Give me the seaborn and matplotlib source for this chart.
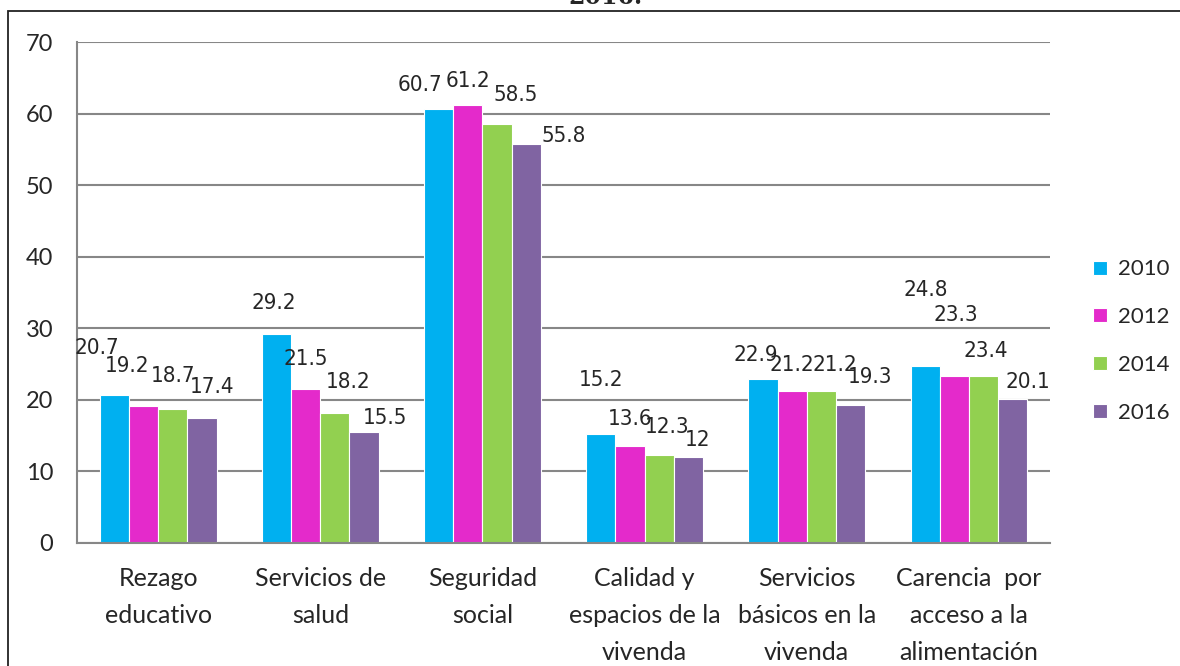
import pandas as pd
import numpy as np
import matplotlib.pyplot as plt
import seaborn as sns
from matplotlib.patches import Rectangle

# data
categories = ["Rezago\neducativo", "Servicios de\nsalud", "Seguridad\nsocial",
              "Calidad y\nespacios de la\nvivenda", "Servicios\nbásicos en la\nvivenda",
              "Carencia  por\nacceso a la\nalimentación"]
years = ["2010", "2012", "2014", "2016"]
v2010 = [20.7, 29.2, 60.7, 15.2, 22.9, 24.8]
v2012 = [19.2, 21.5, 61.2, 13.6, 21.2, 23.3]
v2014 = [18.7, 18.2, 58.5, 12.3, 21.2, 23.4]
v2016 = [17.4, 15.5, 55.8, 12.0, 19.3, 20.1]
yticks = [0, 10, 20, 30, 40, 50, 60, 70]

colors = ["#00B0F0", "#E42ACB", "#92D050", "#8064A2"]

# label offsets (pixels) per year, per category
label_dx = [[-17, -3, -19, 0, -7, 1],
            [-16, 0, 0, 0, 0, 2],
            [0, 13, 19, 8, 13, 2],
            [10, 21, 37, 9, 20, 15]]
label_dy = [[47, 31, 24, 54, 24, 76],
            [40, 30, 24, 27, 26, 61],
            [33, 31, 29, 28, 26, 25],
            [31, 14, 8, 17, 28, 17]]

rows = []
for y, vals in zip(years, [v2010, v2012, v2014, v2016]):
    for c, v in zip(categories, vals):
        rows.append({"cat": c, "year": y, "value": v})
df = pd.DataFrame(rows)

sns.set_style("white")
plt.rcParams['font.family'] = ['Lato', 'DejaVu Sans']

fig = plt.figure(figsize=(11.8, 6.66), dpi=100)
ax = fig.add_axes([0.0653, 0.1847, 0.8245, 0.7522])

sns.barplot(data=df, x="cat", y="value", hue="year", palette=colors,
            saturation=1, width=0.72, gap=0, edgecolor="white", linewidth=0.8,
            errorbar=None, ax=ax)

# value labels
for i, cont in enumerate(ax.containers):
    for j, bar in enumerate(cont):
        h = bar.get_height()
        ax.annotate(f"{h:g}", xy=(bar.get_x() + bar.get_width() / 2, h),
                    xytext=(label_dx[i][j], label_dy[i][j]), textcoords="offset pixels",
                    ha="center", va="center", fontsize=16,
                    family=['DejaVu Sans'], fontstretch="condensed")

ax.set_ylim(0, 70)
ax.set_xlim(-0.5, 5.5)
ax.set_yticks(yticks)
ax.yaxis.grid(True, color="#878787", linewidth=1.5)
ax.set_axisbelow(True)
ax.tick_params(axis="y", length=0, pad=17, labelsize=17)
ax.tick_params(axis="x", length=0, pad=17, labelsize=18)
for lab in ax.get_xticklabels():
    lab.set_linespacing(1.75)
ax.set_xlabel("")
ax.set_ylabel("")
for s in ["top", "right"]:
    ax.spines[s].set_visible(False)
for s in ["left", "bottom"]:
    ax.spines[s].set_color("#878787")
    ax.spines[s].set_linewidth(1.5)

leg = ax.legend(loc="center left", bbox_to_anchor=(1.024, 0.403), frameon=False,
                fontsize=16, handlelength=0.6, handleheight=0.6,
                labelspacing=1.25, handletextpad=0.5)

# frame and cut-off title
fig.patches.append(Rectangle((0.0068, -0.01), 1.0, 0.9935, transform=fig.transFigure,
                             fill=False, edgecolor="#222222", linewidth=1.3))
fig.text(0.513, 1.004, "2016.", ha="center", va="center", fontsize=17,
         fontweight="bold", family="DejaVu Serif")

fig.savefig("out.png", dpi=100)
